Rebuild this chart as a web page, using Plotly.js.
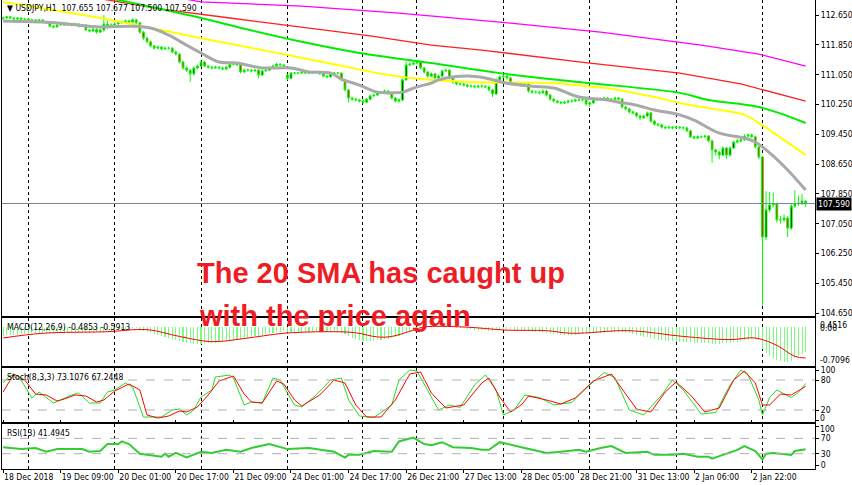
<!DOCTYPE html>
<html><head><meta charset="utf-8">
<script src="https://cdn.plot.ly/plotly-3.0.1.min.js"></script>
<style>html,body{margin:0;padding:0;background:#fff}#chart{width:852px;height:485px}</style>
</head><body><div id="chart"></div>
<script>
// ---------- price bars (H1, USDJPY) ----------
const opens = [112.55,112.57,112.60,112.57,112.54,112.57,112.54,112.54,112.52,112.52,
112.49,112.52,112.46,112.44,112.35,112.33,112.38,112.41,112.38,112.41,
112.38,112.41,112.35,112.38,112.25,112.22,112.27,112.19,112.25,112.41,
112.35,112.38,112.41,112.44,112.46,112.49,112.46,112.52,112.44,112.19,
112.03,111.93,111.82,111.76,111.79,111.74,111.76,111.76,111.66,111.60,
111.39,111.23,111.17,111.07,111.23,111.28,111.39,111.28,111.25,111.23,
111.25,111.23,111.20,111.25,111.33,111.36,111.31,111.12,111.17,111.17,
111.15,111.17,111.04,111.15,111.17,111.23,111.28,111.33,111.31,111.04,
110.95,111.09,111.09,111.09,111.12,111.09,111.09,111.12,111.12,111.07,
111.01,110.99,111.07,111.09,111.09,110.91,110.64,110.42,110.39,110.37,
110.35,110.31,110.39,110.48,110.50,110.56,110.58,110.61,110.56,110.42,
110.34,110.37,110.91,111.31,111.33,111.36,111.39,111.23,111.12,111.01,
111.07,110.96,111.01,111.15,111.17,110.96,110.85,110.80,110.80,110.77,
110.74,110.74,110.72,110.74,110.74,110.72,110.64,110.53,110.91,110.99,
111.01,110.96,110.82,110.80,110.82,110.80,110.80,110.61,110.58,110.58,
110.56,110.61,110.50,110.39,110.34,110.31,110.29,110.31,110.34,110.34,
110.37,110.37,110.37,110.26,110.29,110.37,110.39,110.39,110.42,110.39,
110.39,110.42,110.39,110.18,110.13,110.05,110.02,109.94,109.89,109.94,
110.02,109.80,109.72,109.70,109.64,109.62,109.64,109.62,109.64,109.62,
109.62,109.54,109.38,109.35,109.38,109.38,109.40,109.27,109.03,108.97,
108.89,109.08,108.89,109.08,109.24,109.27,109.30,109.40,109.43,109.38,
109.11,108.84,106.69,107.42,107.55,107.58,107.15,107.15,107.20,106.93,
107.52,107.58,107.60,107.655];
const highs = [112.60,112.63,112.62,112.59,112.60,112.59,112.57,112.56,112.55,112.54,
112.55,112.54,112.49,112.46,112.38,112.41,112.44,112.43,112.43,112.43,
112.44,112.43,112.41,112.40,112.28,112.30,112.29,112.29,112.65,112.50,
112.43,112.45,112.47,112.50,112.53,112.52,112.56,112.55,112.47,112.22,
112.07,111.96,111.85,111.83,111.82,111.80,111.80,111.79,111.69,111.63,
111.42,111.27,111.20,111.27,111.32,111.43,111.41,111.31,111.28,111.29,
111.28,111.26,111.29,111.37,111.40,111.39,111.34,111.21,111.21,111.20,
111.21,111.20,111.19,111.21,111.27,111.32,111.37,111.36,111.34,111.07,
111.12,111.12,111.12,111.15,111.14,111.12,111.15,111.15,111.14,111.09,
111.04,111.10,111.12,111.12,111.11,110.94,110.67,110.46,110.42,110.40,
110.38,110.42,110.51,110.54,110.59,110.62,110.65,110.64,110.59,110.45,
110.41,110.95,111.40,111.38,111.41,111.42,111.41,111.26,111.15,111.11,
111.10,111.05,111.19,111.21,111.20,110.99,110.88,110.84,110.83,110.80,
110.78,110.77,110.78,110.78,110.77,110.75,110.67,110.95,111.03,111.05,
111.04,110.99,110.85,110.86,110.85,110.84,110.83,110.64,110.62,110.61,
110.65,110.64,110.53,110.42,110.37,110.34,110.35,110.38,110.38,110.41,
110.41,110.40,110.40,110.33,110.41,110.43,110.43,110.46,110.45,110.43,
110.46,110.45,110.42,110.21,110.16,110.08,110.05,109.97,109.98,110.06,
110.05,109.83,109.75,109.73,109.67,109.68,109.67,109.68,109.67,109.66,
109.65,109.57,109.41,109.42,109.42,109.44,109.43,109.30,109.06,109.00,
109.12,109.11,109.12,109.28,109.32,109.35,109.45,109.47,109.47,109.41,
109.14,108.87,107.92,107.90,107.88,107.62,107.25,107.30,107.25,107.58,
107.95,107.80,107.85,107.677];
const lows = [112.53,112.55,112.55,112.52,112.52,112.51,112.51,112.49,112.49,112.46,
112.47,112.43,112.41,112.32,112.29,112.31,112.36,112.36,112.36,112.35,
112.36,112.32,112.33,112.22,112.18,112.20,112.15,112.17,112.20,112.28,
112.31,112.36,112.39,112.42,112.44,112.43,112.44,112.41,112.15,111.98,
111.89,111.78,111.72,111.73,111.70,111.71,111.72,111.62,111.56,111.35,
111.18,111.12,110.86,111.02,111.20,111.25,111.25,111.21,111.19,111.20,
111.19,111.16,111.17,111.22,111.30,111.27,111.08,111.09,111.13,111.11,
111.12,110.95,111.01,111.12,111.14,111.20,111.25,111.27,111.24,110.90,
110.92,111.06,111.06,111.07,111.06,111.06,111.07,111.09,111.04,110.97,
110.95,110.96,111.05,111.06,110.87,110.60,110.30,110.35,110.33,110.30,
110.27,110.28,110.36,110.45,110.47,110.53,110.55,110.52,110.38,110.30,
110.30,110.33,110.88,111.27,111.30,111.32,111.19,111.08,110.97,110.98,
110.92,110.93,110.98,111.12,110.92,110.81,110.76,110.76,110.73,110.70,
110.70,110.68,110.69,110.70,110.68,110.60,110.45,110.50,110.88,110.96,
110.92,110.78,110.76,110.77,110.76,110.76,110.57,110.54,110.54,110.52,
110.53,110.46,110.35,110.30,110.27,110.25,110.26,110.28,110.30,110.31,
110.33,110.33,110.22,110.18,110.26,110.34,110.35,110.36,110.36,110.35,
110.36,110.36,110.14,110.09,110.01,109.98,109.90,109.83,109.86,109.91,
109.76,109.68,109.66,109.60,109.58,109.59,109.58,109.59,109.58,109.58,
109.50,109.34,109.31,109.32,109.34,109.35,109.23,108.68,108.88,108.78,
108.86,108.78,108.85,109.05,109.20,109.23,109.27,109.36,109.34,109.07,
108.78,104.85,106.61,107.35,107.50,107.08,107.05,107.10,106.69,106.88,
107.48,107.52,107.55,107.50];
const closes = [112.57,112.60,112.57,112.54,112.57,112.54,112.54,112.52,112.52,112.49,
112.52,112.46,112.44,112.35,112.33,112.38,112.41,112.38,112.41,112.38,
112.41,112.35,112.38,112.25,112.22,112.27,112.19,112.25,112.41,112.35,
112.38,112.41,112.44,112.46,112.49,112.46,112.52,112.44,112.19,112.03,
111.93,111.82,111.76,111.79,111.74,111.76,111.76,111.66,111.60,111.39,
111.23,111.17,111.07,111.23,111.28,111.39,111.28,111.25,111.23,111.25,
111.23,111.20,111.25,111.33,111.36,111.31,111.12,111.17,111.17,111.15,
111.17,111.04,111.15,111.17,111.23,111.28,111.33,111.31,111.28,110.95,
111.09,111.09,111.09,111.12,111.09,111.09,111.12,111.12,111.07,111.01,
110.99,111.07,111.09,111.09,110.91,110.64,110.42,110.39,110.37,110.34,
110.31,110.39,110.48,110.50,110.56,110.58,110.61,110.56,110.42,110.34,
110.37,110.91,111.31,111.33,111.36,111.39,111.23,111.12,111.01,111.07,
110.96,111.01,111.15,111.17,110.96,110.85,110.80,110.80,110.77,110.74,
110.74,110.72,110.74,110.74,110.72,110.64,110.53,110.91,110.99,111.01,
110.96,110.82,110.80,110.82,110.80,110.80,110.61,110.58,110.58,110.56,
110.61,110.50,110.39,110.34,110.31,110.29,110.31,110.34,110.34,110.37,
110.37,110.37,110.26,110.29,110.37,110.39,110.39,110.42,110.39,110.39,
110.42,110.39,110.18,110.13,110.05,110.02,109.94,109.89,109.94,110.02,
109.80,109.72,109.70,109.64,109.62,109.64,109.62,109.64,109.62,109.62,
109.54,109.38,109.35,109.38,109.38,109.40,109.27,109.03,108.97,108.89,
109.08,108.89,109.08,109.24,109.27,109.30,109.40,109.43,109.38,109.11,
108.84,106.69,107.42,107.55,107.58,107.15,107.15,107.20,106.93,107.52,
107.58,107.60,107.655,107.59];
const lastClose = 107.59;

// ---------- moving averages (bar index, price) ----------
const smaGrayIdx = [0,11,18,27,36,41,46,51,55,60,65,72,80,85,91,94,99,104,108,111,115,119,121,129,134,140,147,153,160,168,171,176,181,188,192,199,206,209,213,218,223];
const smaGray = [112.49,112.46,112.41,112.33,112.35,112.30,112.11,111.84,111.63,111.39,111.36,111.23,111.23,111.12,111.09,110.93,110.77,110.58,110.56,110.58,110.72,110.82,110.91,111.01,110.96,110.82,110.74,110.69,110.45,110.37,110.31,110.23,110.10,109.97,109.83,109.48,109.35,109.24,108.95,108.49,107.95];
const smaYellowIdx = [0,27,55,79,96,104,116,130,153,162,171,181,188,196,206,210,223];
const smaYellow = [113.00,112.57,112.03,111.58,111.25,111.09,110.93,110.85,110.82,110.74,110.64,110.45,110.29,110.15,109.97,109.75,108.89];
const smaGreenIdx = [25,36,55,65,83,99,119,138,160,188,196,210,223];
const smaGreen = [113.20,112.97,112.57,112.33,111.93,111.63,111.36,111.09,110.85,110.56,110.37,110.18,109.75];
const smaRedIdx = [14,44,63,83,102,119,133,160,188,205,223];
const smaRed = [113.30,112.81,112.57,112.33,112.09,111.84,111.71,111.39,111.09,110.80,110.34];
const smaMagentaIdx = [30,55,83,110,138,166,194,210,223];
const smaMagenta = [113.45,113.00,112.89,112.70,112.46,112.19,111.84,111.60,111.28];

// ---------- MACD(12,26,9) ----------
const macdMain = [-0.17,-0.16,-0.16,-0.15,-0.15,-0.14,-0.14,-0.13,-0.12,-0.12,
-0.12,-0.11,-0.11,-0.11,-0.11,-0.10,-0.10,-0.10,-0.10,-0.10,
-0.09,-0.09,-0.09,-0.09,-0.09,-0.10,-0.10,-0.10,-0.09,-0.08,
-0.07,-0.06,-0.05,-0.04,-0.03,-0.03,-0.02,-0.02,-0.04,-0.08,
-0.10,-0.12,-0.14,-0.16,-0.17,-0.19,-0.21,-0.23,-0.25,-0.27,
-0.29,-0.30,-0.31,-0.32,-0.32,-0.32,-0.31,-0.31,-0.31,-0.30,
-0.29,-0.28,-0.27,-0.26,-0.25,-0.24,-0.23,-0.22,-0.21,-0.20,
-0.18,-0.17,-0.15,-0.14,-0.12,-0.11,-0.10,-0.09,-0.08,-0.09,
-0.09,-0.10,-0.10,-0.10,-0.10,-0.09,-0.09,-0.09,-0.09,-0.09,
-0.09,-0.09,-0.09,-0.10,-0.12,-0.14,-0.18,-0.21,-0.23,-0.25,
-0.26,-0.27,-0.27,-0.26,-0.25,-0.24,-0.23,-0.22,-0.21,-0.20,
-0.18,-0.15,-0.10,-0.07,-0.04,-0.02,0.00,0.01,0.02,0.02,
0.02,0.02,0.02,0.01,0.01,0.00,-0.01,-0.02,-0.02,-0.03,
-0.04,-0.05,-0.05,-0.06,-0.06,-0.07,-0.07,-0.06,-0.05,-0.04,
-0.04,-0.04,-0.05,-0.05,-0.06,-0.07,-0.08,-0.09,-0.10,-0.10,
-0.11,-0.12,-0.13,-0.14,-0.14,-0.15,-0.15,-0.15,-0.15,-0.15,
-0.14,-0.14,-0.13,-0.13,-0.12,-0.12,-0.11,-0.11,-0.10,-0.10,
-0.09,-0.09,-0.10,-0.11,-0.12,-0.14,-0.16,-0.18,-0.19,-0.20,
-0.21,-0.23,-0.24,-0.25,-0.26,-0.27,-0.27,-0.28,-0.28,-0.28,
-0.29,-0.29,-0.30,-0.30,-0.31,-0.31,-0.31,-0.32,-0.32,-0.32,
-0.31,-0.31,-0.30,-0.29,-0.28,-0.27,-0.25,-0.24,-0.23,-0.23,
-0.25,-0.42,-0.50,-0.56,-0.60,-0.63,-0.65,-0.66,-0.66,-0.64,
-0.60,-0.56,-0.52,-0.4853];
const macdSignalIdx = [0,11,29,40,49,58,67,78,90,98,104,108,114,117,128,140,151,158,174,189,202,209,215,220,223];
const macdSignal = [-0.21,-0.12,-0.09,-0.05,-0.18,-0.28,-0.22,-0.12,-0.09,-0.11,-0.19,-0.18,-0.06,0.00,0.00,-0.06,-0.07,-0.12,-0.07,-0.18,-0.24,-0.21,-0.35,-0.56,-0.5913];

// ---------- Stochastic(8,3,3) ----------
const stochMainIdx = [0,2,5,8,10,13,14,16,19,21,23,24,27,29,31,34,36,39,42,44,47,49,51,53,55,58,59,63,64,66,67,69,72,75,77,79,81,83,87,91,94,96,99,103,108,110,113,115,118,121,124,127,131,134,137,139,142,145,149,153,158,163,167,170,174,178,183,186,189,194,198,202,205,207,210,211,213,215,219,221,223];
const stochMain = [74,90,80,44,56,40,34,40,50,54,40,34,34,56,60,74,66,6,6,6,20,22,10,20,46,60,86,90,84,46,30,36,34,84,80,54,30,26,50,80,84,40,8,5,30,80,100,98,60,20,30,25,70,90,60,10,20,50,45,30,35,70,95,85,20,10,50,80,60,12,15,70,100,90,40,10,45,60,45,55,73.1076];
const stochSigIdx = [0,3,6,9,12,15,17,20,23,26,28,31,35,38,40,43,46,49,51,54,57,60,64,67,69,72,76,78,81,83,88,92,95,98,101,105,109,113,116,119,123,126,128,133,135,138,141,144,146,151,155,159,164,169,171,176,180,184,187,191,195,199,203,206,209,211,213,216,219,223];
const stochSig = [56,92,80,52,50,38,42,50,48,36,40,58,72,60,10,4,8,18,16,26,50,78,88,52,36,34,78,72,40,28,50,80,74,30,6,6,40,92,96,54,24,28,30,74,84,46,16,30,48,40,32,44,78,92,72,22,16,56,76,50,16,24,80,98,74,30,30,52,50,67.2448];

// ---------- RSI(13) ----------
const rsiIdx = [0,5,9,12,15,22,24,27,29,32,33,35,38,42,44,45,46,48,51,55,58,62,66,69,74,79,85,92,95,96,99,103,108,110,114,117,119,122,125,130,133,135,138,144,151,155,160,162,166,169,173,179,181,186,189,193,196,197,201,204,206,209,211,212,214,219,220,223];
const rsiVals = [47,42,45,35,42,42,35,37,55,55,62,55,30,25,22,30,22,32,20,35,32,40,35,45,55,42,45,35,20,27,27,37,35,62,72,55,52,60,47,45,40,40,60,47,32,35,40,35,45,50,32,35,27,27,30,22,22,17,30,40,50,37,15,30,32,27,37,41.4945];

// ---------- axis texts ----------
const timeTickIdx = [0,16,32,48,64,80,96,112,128,144,160,176,192,208];
const timeTickText = ['18 Dec 2018','19 Dec 09:00','20 Dec 01:00','20 Dec 17:00','21 Dec 09:00','24 Dec 01:00','24 Dec 17:00','26 Dec 21:00','27 Dec 13:00','28 Dec 05:00','28 Dec 21:00','31 Dec 13:00','2 Jan 06:00','2 Jan 22:00'];
const daySepIdx = [7,31,55,79,100,115,139,163,187,211];
const priceTicks = [104.65,105.45,106.25,107.05,107.85,108.65,109.45,110.25,111.05,111.85,112.65];
const stochLevels = [0,20,80,100];
const stochLevelText = ['','20','80','100'];
const rsiLevels = [0,30,70,100];
const rsiLevelText = ['0','30','70',''];

const barIdx = closes.map((_, i) => i);
const FONT = 'DejaVu Sans Condensed, DejaVu Sans, Liberation Sans, sans-serif';
const tf = {family: FONT, size: 8.6, color: '#000'};
const PH = 469; // plot-area height in px
const py = v => 1 - v / PH;

const traces = [
  {type:'scatter', mode:'lines', x:smaMagentaIdx, y:smaMagenta, line:{color:'#ff00ff', width:1.3}, xaxis:'x', yaxis:'y', hoverinfo:'skip'},
  {type:'scatter', mode:'lines', x:smaRedIdx, y:smaRed, line:{color:'#ff2020', width:1.3}, xaxis:'x', yaxis:'y', hoverinfo:'skip'},
  {type:'scatter', mode:'lines', x:smaGreenIdx, y:smaGreen, line:{color:'#00ee00', width:2, shape:'spline'}, xaxis:'x', yaxis:'y', hoverinfo:'skip'},
  {type:'scatter', mode:'lines', x:smaYellowIdx, y:smaYellow, line:{color:'#ffff00', width:2, shape:'spline'}, xaxis:'x', yaxis:'y', hoverinfo:'skip'},
  {type:'scatter', mode:'lines', x:smaGrayIdx, y:smaGray, line:{color:'#a9a9a9', width:3, shape:'spline'}, xaxis:'x', yaxis:'y', hoverinfo:'skip'},
  {type:'candlestick', x:barIdx, open:opens, high:highs, low:lows, close:closes,
   increasing:{line:{color:'#00ff00', width:1}, fillcolor:'#000000'},
   decreasing:{line:{color:'#00ff00', width:1}, fillcolor:'#ff0000'},
   whiskerwidth:0, xaxis:'x', yaxis:'y', hoverinfo:'skip'},
  {type:'bar', x:barIdx, y:macdMain, width:0.3, marker:{color:'#7cfc7c', line:{width:0}}, xaxis:'x', yaxis:'y2', hoverinfo:'skip'},
  {type:'scatter', mode:'lines', x:macdSignalIdx, y:macdSignal, line:{color:'#ff0000', width:1, shape:'spline'}, xaxis:'x', yaxis:'y2', hoverinfo:'skip'},
  {type:'scatter', mode:'lines', x:stochMainIdx, y:stochMain, line:{color:'#22dd22', width:1}, xaxis:'x', yaxis:'y3', hoverinfo:'skip'},
  {type:'scatter', mode:'lines', x:stochSigIdx, y:stochSig, line:{color:'#ff0000', width:1}, xaxis:'x', yaxis:'y3', hoverinfo:'skip'},
  {type:'scatter', mode:'lines', x:rsiIdx, y:rsiVals, line:{color:'#33cc33', width:2}, xaxis:'x', yaxis:'y4', hoverinfo:'skip'}
];

const yBase = {side:'right', showline:true, mirror:true, linecolor:'#000', linewidth:1, showgrid:false, zeroline:false,
  ticks:'outside', ticklen:3, tickcolor:'#000', tickfont:tf, fixedrange:true};

const layout = {
  width:852, height:485,
  margin:{l:2, r:37, t:0, b:16},
  paper_bgcolor:'#fff', plot_bgcolor:'#fff',
  showlegend:false, bargap:0,
  xaxis:{range:[-0.3,225.6], anchor:'y4', showline:true, mirror:'all', linecolor:'#000', linewidth:1,
    tickmode:'array', tickvals:timeTickIdx, ticktext:timeTickText, ticks:'outside', ticklen:3, tickcolor:'#000',
    ticklabelposition:'outside right', tickangle:0, tickfont:tf, showgrid:false, zeroline:false,
    minor:{tickmode:'array', tickvals:daySepIdx, showgrid:true, gridcolor:'#000', griddash:'3px,3px', gridwidth:1, ticks:''},
    rangeslider:{visible:false}, fixedrange:true},
  yaxis: Object.assign({}, yBase, {domain:[py(316),1], range:[104.57,113.053], tickmode:'array', tickvals:priceTicks, tickformat:'.3f'}),
  yaxis2: Object.assign({}, yBase, {domain:[py(366),py(318)], range:[-0.743,0.171], showticklabels:false, ticks:''}),
  yaxis3: Object.assign({}, yBase, {domain:[py(422),py(368)], range:[-4,104], tickmode:'array', tickvals:stochLevels, ticktext:stochLevelText}),
  yaxis4: Object.assign({}, yBase, {domain:[0,py(424)], range:[-10,107.5], tickmode:'array', tickvals:rsiLevels, ticktext:rsiLevelText}),
  shapes:[
    {type:'line', xref:'paper', x0:0, x1:1, yref:'y', y0:lastClose, y1:lastClose, line:{color:'#778899', width:1}},
    {type:'line', xref:'paper', x0:0, x1:1, yref:'y3', y0:20, y1:20, line:{color:'#b0b0b0', width:1, dash:'dash'}},
    {type:'line', xref:'paper', x0:0, x1:1, yref:'y3', y0:80, y1:80, line:{color:'#b0b0b0', width:1, dash:'dash'}},
    {type:'line', xref:'paper', x0:0, x1:1, yref:'y4', y0:30, y1:30, line:{color:'#b0b0b0', width:1, dash:'dash'}},
    {type:'line', xref:'paper', x0:0, x1:1, yref:'y4', y0:70, y1:70, line:{color:'#b0b0b0', width:1, dash:'dash'}}
  ],
  annotations:[
    {xref:'paper', yref:'paper', x:0, y:1, xanchor:'left', yanchor:'top', xshift:3, yshift:-1, showarrow:false,
     text:'▼ USDJPY,H1  107.655 107.677 107.500 107.590', font:tf},
    {xref:'paper', yref:'paper', x:0, y:py(318), xanchor:'left', yanchor:'top', xshift:3, yshift:-2, showarrow:false,
     text:'MACD(12,26,9) -0.4853 -0.5913', font:tf},
    {xref:'paper', yref:'paper', x:0, y:py(368), xanchor:'left', yanchor:'top', xshift:3, yshift:-2, showarrow:false,
     text:'Stoch(8,3,3) 73.1076 67.2448', font:tf},
    {xref:'paper', yref:'paper', x:0, y:py(424), xanchor:'left', yanchor:'top', xshift:3, yshift:-2, showarrow:false,
     text:'RSI(13) 41.4945', font:tf},
    {xref:'paper', yref:'y', x:1, y:lastClose, xanchor:'left', yanchor:'middle', xshift:1, showarrow:false,
     text:'107.590', font:{family:FONT, size:8.6, color:'#fff'}, bgcolor:'#000', borderpad:1},
    {xref:'paper', yref:'y2', x:1, y:0.0, xanchor:'left', yanchor:'middle', xshift:3, yshift:2, showarrow:false, text:'0.4516', font:tf},
    {xref:'paper', yref:'y2', x:1, y:0.0, xanchor:'left', yanchor:'middle', xshift:3, yshift:-1, showarrow:false, text:'0.00', font:tf},
    {xref:'paper', yref:'y2', x:1, y:-0.62, xanchor:'left', yanchor:'middle', xshift:3, showarrow:false, text:'-0.7096', font:tf},
    {xref:'paper', yref:'y3', x:1, y:0, xanchor:'left', yanchor:'middle', xshift:3, yshift:2, showarrow:false, text:'0', font:tf},
    {xref:'paper', yref:'y4', x:1, y:100, xanchor:'left', yanchor:'middle', xshift:3, yshift:-2, showarrow:false, text:'100', font:tf},
    {xref:'paper', yref:'paper', x:0.2374, y:py(273), xanchor:'left', yanchor:'middle', showarrow:false,
     text:'The 20 SMA has caught up', font:{family:'Liberation Sans, Arial, sans-serif', size:29, color:'#ee1c24', weight:700}},
    {xref:'paper', yref:'paper', x:0.2398, y:py(316), xanchor:'left', yanchor:'middle', showarrow:false,
     text:'with the price again', font:{family:'Liberation Sans, Arial, sans-serif', size:29, color:'#ee1c24', weight:700}}
  ]
};

Plotly.newPlot('chart', traces, layout, {displayModeBar:false, staticPlot:true});
</script></body></html>
